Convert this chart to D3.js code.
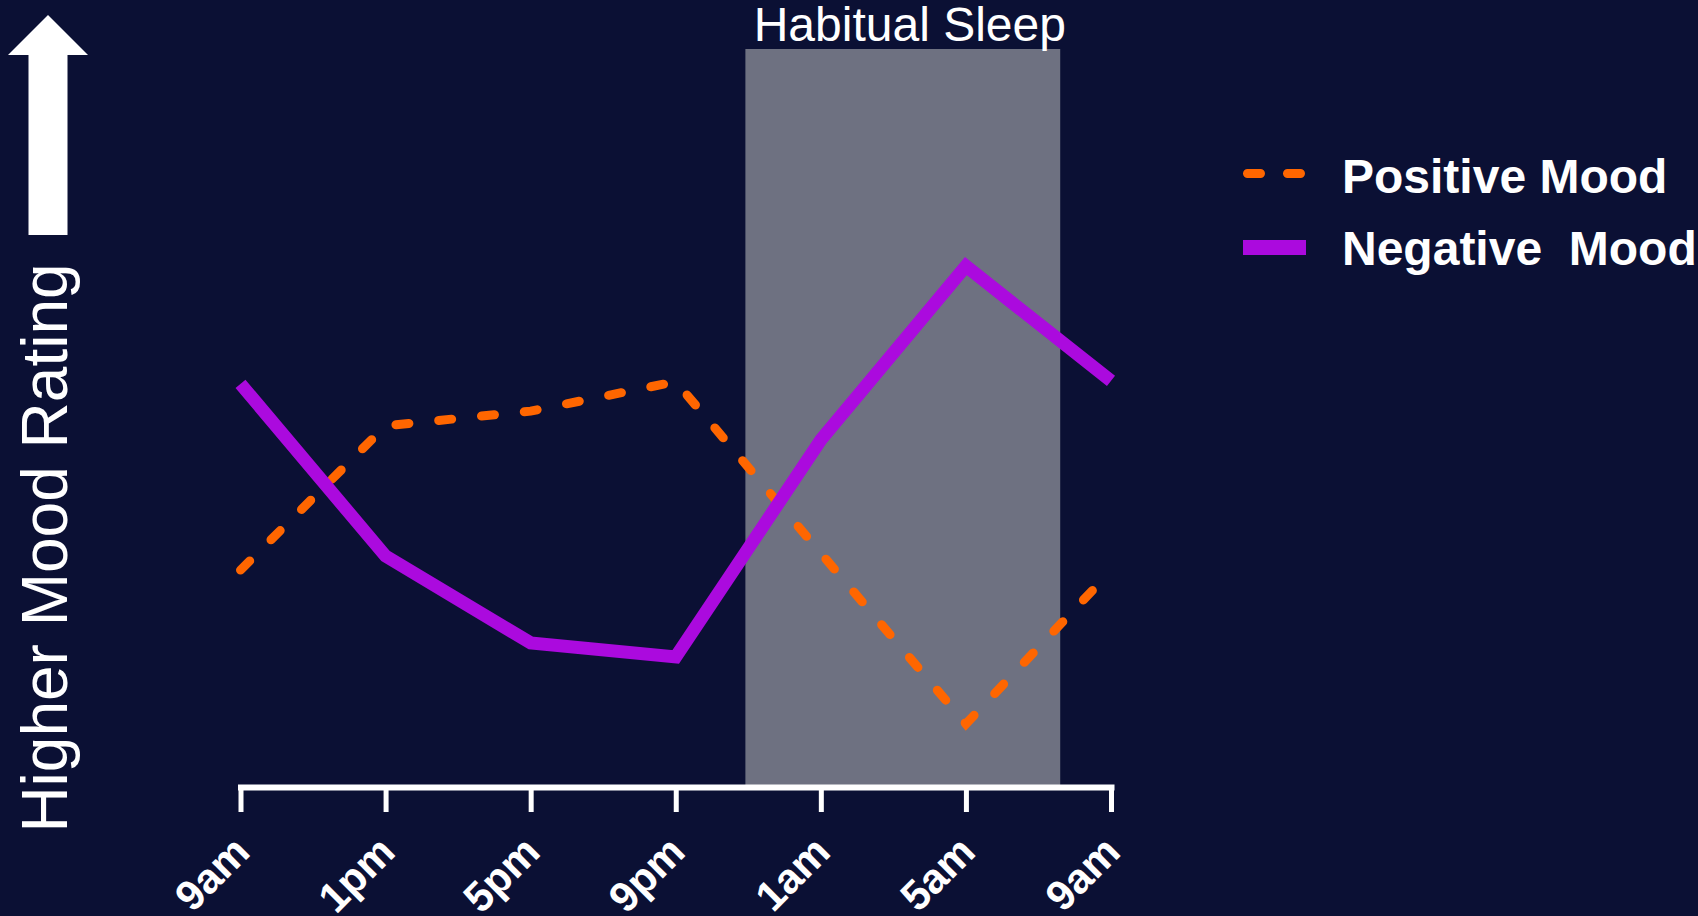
<!DOCTYPE html>
<html>
<head>
<meta charset="utf-8">
<script src="https://cdn.jsdelivr.net/npm/d3@7"></script>
<style>
  html, body { margin: 0; padding: 0; background: #0b1034; }
  svg { display: block; }
  text { font-family: "Liberation Sans", Arial, sans-serif; fill: #ffffff; }
</style>
</head>
<body>
<svg id="chart" width="1698" height="916"></svg>
<script>
// ---- data ----
const timeLabels = ["9am", "1pm", "5pm", "9pm", "1am", "5am", "9am"];
const positiveMood = [2.92, 4.88, 5.08, 5.48, 3.15, 0.83, 2.91];
const negativeMood = [5.45, 3.11, 1.93, 1.74, 4.69, 7.05, 5.49];
const seriesNames = ["Positive Mood", "Negative  Mood"];
const sleepWindow = [3.48, 5.65]; // in time-slot units (≈ 11pm – 7:40am)
const yDomain = [0, 10];

// ---- layout ----
const W = 1698, H = 916;
const svg = d3.select("#chart");
svg.append("rect").attr("width", W).attr("height", H).attr("fill", "#0b1034");

const x = d3.scaleLinear().domain([0, timeLabels.length - 1]).range([240.5, 1111]);
const y = d3.scaleLinear().domain(yDomain).range([785, 49]);

// sleep band
svg.append("rect")
  .attr("x", x(sleepWindow[0]))
  .attr("width", x(sleepWindow[1]) - x(sleepWindow[0]))
  .attr("y", y(yDomain[1]))
  .attr("height", y(yDomain[0]) - y(yDomain[1]))
  .attr("fill", "#6e7181");

svg.append("text")
  .attr("x", (x(sleepWindow[0]) + x(sleepWindow[1])) / 2 + 7)
  .attr("y", 41)
  .attr("text-anchor", "middle")
  .style("font-size", "48px")
  .text("Habitual Sleep");

// lines
const idx = d3.range(timeLabels.length);

svg.append("path")
  .attr("d", d3.line().x(i => x(i)).y(i => y(positiveMood[i]))(idx))
  .attr("fill", "none")
  .attr("stroke", "#ff6600")
  .attr("stroke-width", 9)
  .attr("stroke-linecap", "round")
  .attr("stroke-dasharray", "13,30");

svg.append("path")
  .attr("d", d3.line().x(i => x(i)).y(i => y(negativeMood[i]))(idx))
  .attr("fill", "none")
  .attr("stroke", "#ab0ade")
  .attr("stroke-width", 13)
  .attr("stroke-linejoin", "miter")
  .attr("stroke-miterlimit", 10);

// x axis
const axis = d3.axisBottom(x)
  .tickValues(idx)
  .tickFormat(i => timeLabels[i])
  .tickSize(25)
  .tickSizeOuter(0);

const gx = svg.append("g").attr("transform", "translate(0,787)").call(axis);
gx.select(".domain").attr("stroke", "#ffffff").attr("stroke-width", 6).attr("stroke-linecap", "square");
gx.selectAll(".tick line").attr("stroke", "#ffffff").attr("stroke-width", 5);
gx.selectAll(".tick text")
  .attr("y", null).attr("dy", null)
  .attr("transform", "translate(11,67) rotate(-45)")
  .attr("text-anchor", "end")
  .attr("fill", "#ffffff")
  .style("font-size", "42px")
  .style("font-weight", "bold")
  .style("font-family", "'Liberation Sans', Arial, sans-serif");

// y label + arrow
svg.append("text")
  .attr("transform", "translate(67,548) rotate(-90)")
  .attr("text-anchor", "middle")
  .style("font-size", "64px")
  .text("Higher Mood Rating");

svg.append("polygon")
  .attr("points", [[48,15],[88,55],[67.5,55],[67.5,235],[28.5,235],[28.5,55],[8,55]].map(p => p.join(",")).join(" "))
  .attr("fill", "#ffffff");

// legend
const legend = svg.append("g").attr("transform", "translate(1243,0)");
legend.append("line")
  .attr("x1", 4.5).attr("x2", 62).attr("y1", 173.5).attr("y2", 173.5)
  .attr("stroke", "#ff6600").attr("stroke-width", 9)
  .attr("stroke-linecap", "round").attr("stroke-dasharray", "13,27");
legend.append("line")
  .attr("x1", 0).attr("x2", 63).attr("y1", 247.5).attr("y2", 247.5)
  .attr("stroke", "#ab0ade").attr("stroke-width", 15);
legend.selectAll("text.leg")
  .data(seriesNames)
  .join("text")
  .attr("class", "leg")
  .attr("x", 99)
  .attr("y", (d, i) => [193, 265][i])
  .attr("xml:space", "preserve")
  .style("white-space", "pre")
  .style("font-size", "48px")
  .style("font-weight", "bold")
  .text(d => d);
</script>
</body>
</html>
